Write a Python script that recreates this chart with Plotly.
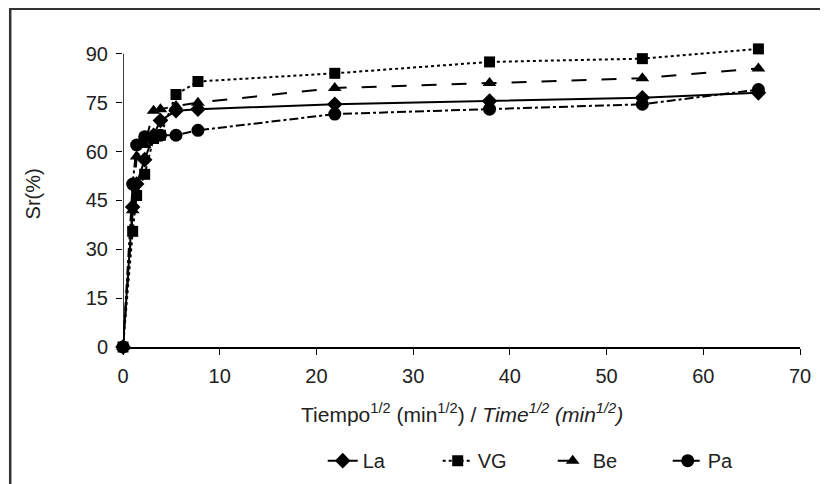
import plotly.graph_objects as go

# sqrt(time) in min^1/2
x_vals = [0, 1.0, 1.41, 2.24, 3.16, 3.87, 5.48, 7.75, 21.9, 37.9, 53.7, 65.7]
la = [0, 43.0, 50.0, 57.5, 65.0, 69.5, 72.5, 73.0, 74.5, 75.5, 76.5, 78.0]
vg = [0, 35.5, 46.5, 53.0, 64.0, 65.0, 77.5, 81.5, 84.0, 87.5, 88.5, 91.5]
be = [0, 42.0, 58.5, 62.0, 72.5, 73.0, 74.0, 75.0, 79.5, 81.0, 82.5, 85.5]
pa = [0, 50.0, 62.0, 64.5, 64.5, 65.0, 65.0, 66.5, 71.5, 73.0, 74.5, 79.0]

y_ticks = [0, 15, 30, 45, 60, 75, 90]
x_ticks = [0, 10, 20, 30, 40, 50, 60, 70]
x_title = "Tiempo<sup>1/2</sup> (min<sup>1/2</sup>) / <i>Time<sup>1/2</sup> (min<sup>1/2</sup>)</i>"
y_title = "Sr(%)"

series = [
    ("La", la, "solid", "diamond", 12),
    ("VG", vg, "dot", "square", 11),
    ("Be", be, "longdash", "triangle-up", 12),
    ("Pa", pa, "dashdot", "circle", 13),
]

fig = go.Figure()
for name, ys, dash, sym, size in series:
    fig.add_trace(go.Scatter(
        x=x_vals, y=ys, name=name, mode="lines+markers",
        line=dict(color="black", width=2, dash=dash),
        marker=dict(symbol=sym, size=size, color="black"),
        cliponaxis=False,
    ))

font = "Liberation Sans, Arial, sans-serif"
fig.update_layout(
    width=828, height=484,
    margin=dict(l=115, r=36, t=36, b=145, autoexpand=False),
    paper_bgcolor="white", plot_bgcolor="white",
    font=dict(family=font, size=20, color="#222"),
    showlegend=True,
    legend=dict(orientation="h", x=0.295, xanchor="left", y=-0.375, yanchor="middle",
                font=dict(size=20, color="#222"), entrywidth=70, tracegroupgap=0,
                bgcolor="rgba(0,0,0,0)"),
    xaxis=dict(range=[0, 70], tickvals=x_ticks, showgrid=False, zeroline=False,
               showline=True, linecolor="black", linewidth=1.5,
               ticks="outside", ticklen=6, tickcolor="black",
               tickfont=dict(size=20), automargin=False, ticklabelstandoff=4),
    yaxis=dict(range=[0, 93], tickvals=y_ticks, showgrid=False, zeroline=False,
               showline=False, automargin=False, ticklabelstandoff=4,
               ticks="outside", ticklen=6, tickcolor="black",
               tickfont=dict(size=20)),
)

fig.add_annotation(text=x_title, xref="paper", yref="paper", x=0.5, y=-0.2168,
                   xanchor="center", yanchor="middle", showarrow=False,
                   font=dict(size=21, color="#222"))
fig.add_annotation(text=y_title, xref="paper", yref="paper", x=-0.1333, y=0.506,
                   xanchor="center", yanchor="middle", showarrow=False, textangle=-90,
                   font=dict(size=20, color="#222"))

# y-axis line only from 0 to 90
fig.add_shape(type="line", xref="x", yref="y", x0=0, x1=0, y0=0, y1=90,
              line=dict(color="black", width=1.5), layer="above")

# outer frame (only left and top edges visible in the image)
fig.add_shape(type="rect", xref="paper", yref="paper",
              x0=-0.1666, x1=1.1, y0=-0.6, y1=1.116,
              line=dict(color="#333", width=2.5), layer="below")

fig.write_html("out.html")
